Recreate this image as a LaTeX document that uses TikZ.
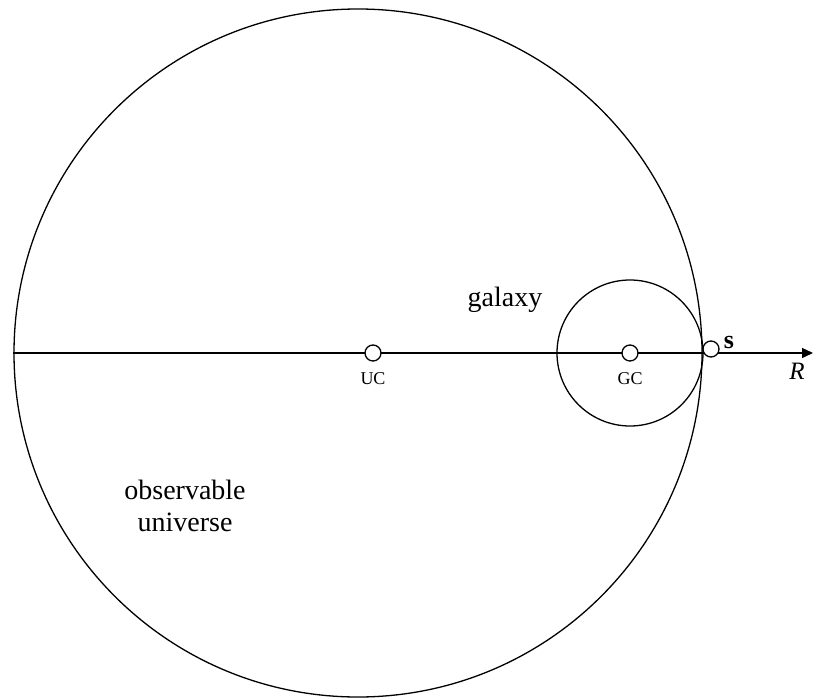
\documentclass[tikz,border=0pt]{standalone}
\usepackage{fontspec}
\setmainfont{Liberation Serif}
\usetikzlibrary{arrows.meta}
\begin{document}
\begin{tikzpicture}[x=1pt,y=-1pt,
  bigline/.style={line width=1.3pt,black},
  dot/.style={circle,draw,line width=1.3pt,fill=white,inner sep=0pt,minimum size=16pt},
  small/.style={font=\fontsize{18}{20}\selectfont},
  large/.style={font=\fontsize{28}{32}\selectfont}]
\useasboundingbox (0,0) rectangle (813,698);
\coordinate (L) at (13,353);
\coordinate (Rend) at (813,353);
\draw[line width=1.3pt,-{Triangle[length=11pt,width=10pt]}] (L) -- (Rend);
\draw[bigline] (358,353) circle (344);
\draw[bigline] (630,353) circle (73);
\node[dot] (UC) at (373,353) {};
\node[dot] (GC) at (630,353) {};
\node[dot] (S) at (711,349) {};
\node[small] (uclab) at (373,379) {UC};
\node[small] (gclab) at (630,379) {GC};
\node[font=\fontsize{26}{28}\selectfont\bfseries] (slab) at (729,342) {s};
\node[font=\fontsize{25}{27}\selectfont\itshape] (rlab) at (797,371) {R};
\node[large] (gal) at (505,300) {galaxy};
\node[large,align=center] (obs) at (185,506) {observable\\universe};
\end{tikzpicture}
\end{document}
